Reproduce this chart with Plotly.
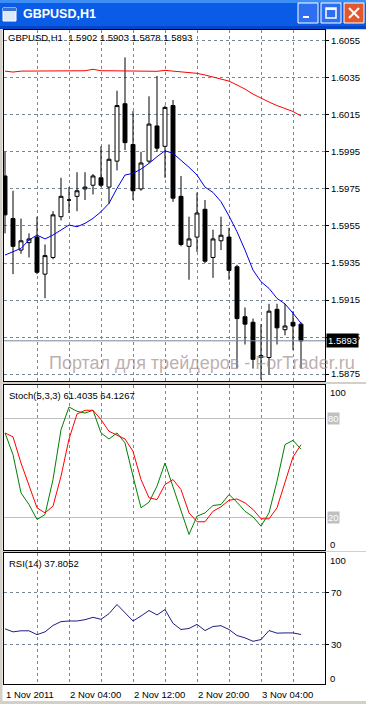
import plotly.graph_objects as go

W, H = 366, 704

# ---------------- data ----------------
bar_index = list(range(38))
opens = [1.5982, 1.5959, 1.5942, 1.5946, 1.5949, 1.5929, 1.5938, 1.5960, 1.5969, 1.5971,
         1.5975, 1.5977, 1.5981, 1.5976, 1.5990, 1.6021, 1.5999, 1.5975, 1.5990, 1.6009,
         1.5998, 1.6020, 1.5971, 1.5944, 1.5949, 1.5964, 1.5938, 1.5947, 1.5949, 1.5933,
         1.5906, 1.5903, 1.5884, 1.5884, 1.5910, 1.5899, 1.5903, 1.5902]
highs = [1.5995, 1.5974, 1.5959, 1.5951, 1.5960, 1.5945, 1.5963, 1.5981, 1.5976, 1.5984,
         1.5984, 1.5983, 1.5998, 1.5999, 1.6028, 1.6046, 1.6017, 1.5995, 1.6025, 1.6036,
         1.6020, 1.6023, 1.5982, 1.5960, 1.5973, 1.5969, 1.5953, 1.5960, 1.5954, 1.5934,
         1.5911, 1.5905, 1.5902, 1.5913, 1.5913, 1.5913, 1.5909, 1.5903]
lows = [1.5951, 1.5929, 1.5940, 1.5938, 1.5929, 1.5916, 1.5937, 1.5958, 1.5962, 1.5963,
        1.5969, 1.5972, 1.5976, 1.5967, 1.5985, 1.5996, 1.5969, 1.5974, 1.5989, 1.5995,
        1.5981, 1.5968, 1.5944, 1.5926, 1.5941, 1.5935, 1.5927, 1.5942, 1.5926, 1.5878,
        1.5891, 1.5878, 1.5872, 1.5875, 1.5891, 1.5896, 1.5888, 1.5878]
closes = [1.5961, 1.5944, 1.5947, 1.5948, 1.5930, 1.5939, 1.5961, 1.5971, 1.5969, 1.5974,
          1.5976, 1.5982, 1.5977, 1.5991, 1.6020, 1.6000, 1.5974, 1.5989, 1.6010, 1.5997,
          1.6019, 1.5970, 1.5945, 1.5948, 1.5962, 1.5936, 1.5948, 1.5950, 1.5931, 1.5905,
          1.5902, 1.5883, 1.5885, 1.5909, 1.5900, 1.5901, 1.5901, 1.5893]

ma_slow = [1.60386, 1.60381, 1.60386, 1.60386, 1.60388, 1.60388, 1.60388, 1.60388, 1.60388, 1.60388,
           1.60388, 1.60396, 1.60388, 1.60388, 1.60388, 1.60388, 1.60388, 1.60388, 1.60385, 1.60385,
           1.60390, 1.60386, 1.60381, 1.60377, 1.60374, 1.60365, 1.60354, 1.60345, 1.60332, 1.60311,
           1.60289, 1.60262, 1.60239, 1.60219, 1.60200, 1.60184, 1.60168, 1.60144]
ma_fast = [1.59393, 1.59411, 1.59429, 1.59474, 1.59501, 1.59480, 1.59501, 1.59528, 1.59555, 1.59546,
           1.59564, 1.59591, 1.59627, 1.59672, 1.59753, 1.59825, 1.59834, 1.59857, 1.59888, 1.59924,
           1.59956, 1.59942, 1.59906, 1.59867, 1.59825, 1.59760, 1.59731, 1.59681, 1.59604, 1.59519,
           1.59420, 1.59312, 1.59249, 1.59213, 1.59159, 1.59129, 1.59079, 1.59025]

stoch_main = [71.3, 58.1, 34.8, 27.7, 18.6, 21.6, 42.9, 73.3, 87.1, 84.5,
              83.4, 85.1, 71.3, 67.6, 71.3, 65.2, 44.9, 25.7, 29.1, 38.9,
              53.0, 38.9, 24.7, 9.5, 20.6, 22.6, 27.1, 27.7, 33.8, 29.1,
              23.6, 20.2, 14.5, 22.6, 41.9, 64.2, 66.8, 61.4035]
stoch_signal = [71.3, 68.9, 53.0, 38.9, 25.7, 22.6, 26.7, 44.9, 67.6, 82.8,
                85.1, 85.1, 79.4, 72.3, 69.7, 67.6, 60.1, 42.9, 31.8, 30.7,
                39.9, 42.9, 36.8, 22.6, 17.2, 17.2, 23.6, 26.3, 30.3, 31.1,
                28.7, 24.7, 19.0, 19.0, 25.7, 40.9, 56.7, 64.1267]
rsi = [42.1, 39.8, 40.6, 40.6, 37.7, 39.8, 44.7, 47.6, 48.1, 48.1,
       49.1, 50.9, 49.4, 53.7, 60.7, 54.5, 48.1, 51.9, 56.1, 52.7,
       56.8, 46.3, 41.6, 42.4, 45.5, 40.8, 43.9, 44.5, 41.6, 37.0,
       35.2, 32.6, 33.9, 40.8, 38.8, 39.0, 39.0, 37.8052]

time_label_pos = [0, 8, 16, 24, 32]
time_labels = ["1 Nov 2011", "2 Nov 04:00", "2 Nov 12:00", "2 Nov 20:00", "3 Nov 04:00"]
grid_pos = [4, 8, 12, 16, 20, 24, 28, 32, 36]
price_ticks = [1.6055, 1.6035, 1.6015, 1.5995, 1.5975, 1.5955, 1.5935, 1.5915, 1.5895, 1.5875]
stoch_levels = [20, 80]
rsi_levels = [30, 70]

# ---------------- helpers (pixel -> paper) ----------------
def px(x):
    return x / W

def py(y):
    return 1 - y / H

FONT = "Liberation Sans"
GRID = "#778899"
FS = 9.5

X_RANGE = [-0.125, 40.0]
main_dom = [py(381), py(30)]
stoch_dom = [py(550), py(385)]
rsi_dom = [py(684), py(553)]
x_dom = [px(4), px(325)]

fig = go.Figure()

fig.add_trace(go.Candlestick(
    x=bar_index, open=opens, high=highs, low=lows, close=closes,
    increasing=dict(line=dict(color="black", width=1), fillcolor="white"),
    decreasing=dict(line=dict(color="black", width=1), fillcolor="black"),
    whiskerwidth=0, xaxis="x", yaxis="y", showlegend=False, hoverinfo="skip"))
fig.add_trace(go.Scatter(x=bar_index, y=ma_slow, mode="lines",
                         line=dict(color="#FF0000", width=1), xaxis="x", yaxis="y",
                         showlegend=False, hoverinfo="skip"))
fig.add_trace(go.Scatter(x=bar_index, y=ma_fast, mode="lines",
                         line=dict(color="#0000E6", width=1), xaxis="x", yaxis="y",
                         showlegend=False, hoverinfo="skip"))

fig.add_trace(go.Scatter(x=bar_index, y=stoch_main, mode="lines",
                         line=dict(color="#008000", width=1), xaxis="x2", yaxis="y2",
                         showlegend=False, hoverinfo="skip"))
fig.add_trace(go.Scatter(x=bar_index, y=stoch_signal, mode="lines",
                         line=dict(color="#FF0000", width=1), xaxis="x2", yaxis="y2",
                         showlegend=False, hoverinfo="skip"))

fig.add_trace(go.Scatter(x=bar_index, y=rsi, mode="lines",
                         line=dict(color="#1E1E82", width=1), xaxis="x3", yaxis="y3",
                         showlegend=False, hoverinfo="skip"))

common_x = dict(domain=x_dom, range=X_RANGE, showgrid=True, gridcolor=GRID,
                griddash="3px,3px", gridwidth=1, tickmode="array", tickvals=grid_pos,
                showticklabels=False, ticks="", zeroline=False, showline=True,
                mirror=True, linecolor="black", linewidth=1, fixedrange=True)

fig.update_layout(
    xaxis=dict(common_x, anchor="y", rangeslider=dict(visible=False)),
    xaxis2=dict(common_x, anchor="y2"),
    xaxis3=dict(common_x, anchor="y3"),
    xaxis4=dict(domain=x_dom, range=X_RANGE, overlaying="x3", anchor="y3",
                tickmode="array", tickvals=time_label_pos, ticks="outside",
                ticklen=3, tickcolor="black", showticklabels=False, showgrid=False,
                zeroline=False, showline=False, fixedrange=True),
    yaxis=dict(domain=main_dom, range=[1.58713, 1.60608], side="right", anchor="x",
               tickmode="array", tickvals=price_ticks,
               ticktext=[f"{v:.4f}" for v in price_ticks],
               ticks="outside", ticklen=3, tickcolor="black",
               tickfont=dict(family=FONT, size=FS, color="black"),
               showgrid=True, gridcolor=GRID, griddash="3px,3px", zeroline=False,
               showline=True, mirror=True, linecolor="black", fixedrange=True),
    yaxis2=dict(domain=stoch_dom, range=[0, 100.5], side="right", anchor="x2",
                tickmode="array", tickvals=stoch_levels, showticklabels=False, ticks="",
                showgrid=True, gridcolor="#C0C0C0", gridwidth=1, zeroline=False,
                showline=True, mirror=True, linecolor="black", fixedrange=True),
    yaxis3=dict(domain=rsi_dom, range=[0, 100], side="right", anchor="x3",
                tickmode="array", tickvals=rsi_levels,
                ticktext=[str(v) for v in rsi_levels],
                ticks="outside", ticklen=3, tickcolor="black",
                tickfont=dict(family=FONT, size=FS, color="black"),
                showgrid=True, gridcolor=GRID, griddash="3px,3px", zeroline=False,
                showline=True, mirror=True, linecolor="black", fixedrange=True),
    width=W, height=H, margin=dict(l=0, r=0, t=0, b=0, pad=0),
    paper_bgcolor="white", plot_bgcolor="white", showlegend=False,
)

shapes = []
# window title bar
shapes.append(dict(type="rect", xref="paper", yref="paper", x0=0, x1=1, y0=py(29), y1=1,
                   fillcolor="#0A5CE6", line=dict(width=0), layer="above"))
shapes.append(dict(type="rect", xref="paper", yref="paper", x0=0, x1=1, y0=py(3), y1=1,
                   fillcolor="#3D8EF5", line=dict(width=0), layer="above"))
shapes.append(dict(type="rect", xref="paper", yref="paper", x0=0, x1=1, y0=py(29), y1=py(26),
                   fillcolor="#0645C8", line=dict(width=0), layer="above"))
# icon
shapes.append(dict(type="rect", xref="paper", yref="paper", x0=px(3), x1=px(16), y0=py(21), y1=py(8),
                   fillcolor="#DCE8FA", line=dict(color="white", width=1), layer="above"))
shapes.append(dict(type="rect", xref="paper", yref="paper", x0=px(3), x1=px(16), y0=py(11), y1=py(8),
                   fillcolor="#3B6FD0", line=dict(width=0), layer="above"))
# buttons
for bx0, col in [(298, "#2D6FF0"), (321, "#2D6FF0"), (344, "#E2582E")]:
    shapes.append(dict(type="rect", xref="paper", yref="paper", x0=px(bx0), x1=px(bx0 + 20),
                       y0=py(23), y1=py(3), fillcolor=col, line=dict(color="white", width=1),
                       layer="above"))
shapes.append(dict(type="rect", xref="paper", yref="paper", x0=px(303), x1=px(309), y0=py(18), y1=py(16),
                   fillcolor="white", line=dict(width=0), layer="above"))
shapes.append(dict(type="rect", xref="paper", yref="paper", x0=px(326), x1=px(336), y0=py(18), y1=py(8),
                   fillcolor="rgba(0,0,0,0)", line=dict(color="white", width=1.5), layer="above"))
shapes.append(dict(type="rect", xref="paper", yref="paper", x0=px(326), x1=px(336), y0=py(10), y1=py(8),
                   fillcolor="white", line=dict(width=0), layer="above"))
shapes.append(dict(type="line", xref="paper", yref="paper", x0=px(349), x1=px(359), y0=py(8), y1=py(18),
                   line=dict(color="white", width=2), layer="above"))
shapes.append(dict(type="line", xref="paper", yref="paper", x0=px(349), x1=px(359), y0=py(18), y1=py(8),
                   line=dict(color="white", width=2), layer="above"))
# window frame strips
shapes.append(dict(type="rect", xref="paper", yref="paper", x0=0, x1=px(2.5), y0=0, y1=py(29),
                   fillcolor="#D4D0C8", line=dict(width=0), layer="above"))
shapes.append(dict(type="rect", xref="paper", yref="paper", x0=0, x1=1, y0=0, y1=py(701),
                   fillcolor="#D4D0C8", line=dict(width=0), layer="above"))
shapes.append(dict(type="rect", xref="paper", yref="paper", x0=0, x1=1, y0=py(30), y1=py(29),
                   fillcolor="#D4D0C8", line=dict(width=0), layer="below"))
# panel separators
shapes.append(dict(type="rect", xref="paper", yref="paper", x0=0, x1=1, y0=py(384), y1=py(382),
                   fillcolor="#D4D0C8", line=dict(width=0), layer="below"))
shapes.append(dict(type="rect", xref="paper", yref="paper", x0=0, x1=1, y0=py(552), y1=py(551),
                   fillcolor="#D4D0C8", line=dict(width=0), layer="below"))
# current price line
shapes.append(dict(type="line", xref="x domain", yref="y", x0=0, x1=1, y0=closes[-1], y1=closes[-1],
                   line=dict(color="#778899", width=1), layer="above"))
fig.update_layout(shapes=shapes)

ann = []
def text(x, y, s, size=FS, color="black", xanchor="left", **kw):
    ann.append(dict(xref="paper", yref="paper", x=px(x), y=py(y), text=s, showarrow=False,
                    xanchor=xanchor, yanchor="middle",
                    font=dict(family=FONT, size=size, color=color), **kw))

text(21, 14, "<b>GBPUSD,H1</b>", size=12.5, color="white")
text(6, 38, f"GBPUSD,H1  {opens[-1]:.4f} {highs[-1]:.4f} {lows[-1]:.4f} {closes[-1]:.4f}")
text(7, 395.5, f"Stoch(5,3,3) {stoch_main[-1]:.4f} {stoch_signal[-1]:.4f}")
text(7, 563, f"RSI(14) {rsi[-1]:.4f}")
text(47, 363, "Портал для трейдеров - ForTrader.ru", size=18, color="rgba(160,140,140,0.7)")

# stochastic scale labels
text(328, 392.5, "100")
text(328, 544, "0")
for lv in stoch_levels:
    ann.append(dict(xref="paper", yref="y2", x=px(327), y=lv, text=str(lv), showarrow=False,
                    xanchor="left", yanchor="middle", bgcolor="#C0C0C0", borderpad=0,
                    font=dict(family=FONT, size=FS, color="white")))
# rsi scale labels
text(328, 560, "100")
text(328, 678, "0")

# time labels
for pos, lab in zip(time_label_pos, time_labels):
    ann.append(dict(xref="x3", yref="paper", x=pos, y=py(694.5), text=lab, showarrow=False,
                    xanchor="left", yanchor="middle", xshift=-1,
                    font=dict(family=FONT, size=FS, color="black")))

# current price box
ann.append(dict(xref="paper", yref="y", x=px(326), y=closes[-1], text=f"{closes[-1]:.4f}",
                showarrow=False, xanchor="left", yanchor="middle", bgcolor="black",
                borderpad=1, font=dict(family=FONT, size=FS, color="white")))
fig.update_layout(annotations=ann)

fig.write_html("out.html", config={"displayModeBar": False},
               post_script="document.body.style.margin='0';document.body.style.overflow='hidden';")
